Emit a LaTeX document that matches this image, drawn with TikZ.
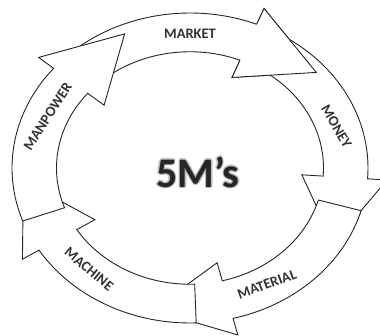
\documentclass[tikz,border=0pt]{standalone}
\usepackage{fontspec}
\setmainfont{Carlito}
\usepackage{tikz}
\usetikzlibrary{positioning}

\tikzset{
  band/.style={fill=white, draw=black!85, line width=0.9pt, line join=miter},
  tag/.style={font=\bfseries\fontsize{14.5}{17}\selectfont, text=black!80, inner sep=0pt},
  hubtext/.style={font=\bfseries\fontsize{42}{48}\selectfont, inner sep=0pt},
}

\begin{document}
\begin{tikzpicture}[x=1pt,y=1pt]
  \path[use as bounding box, clip] (0,0) rectangle (380,335);
  \begin{scope}[shift={(190pt,167pt)}, x=178pt, y=155pt]
    % five bands going round clockwise, one head every 72 degrees
    \foreach \e in {68,-4,-76,-148,-220}{
      \pgfmathsetmacro{\s}{\e+60}
      \pgfmathsetmacro{\t}{\e-27}
      \filldraw[band] (\s:1) arc[start angle=\s, end angle=\e, x radius=178pt, y radius=155pt]
        -- (\e:1.11) -- (\t:0.94) -- (\e:0.63) -- (\e:0.75)
        arc[start angle=\e, end angle=\s, x radius=133.5pt, y radius=116.25pt] -- cycle;
    }
    % first head once more, over the tail of the second band
    \filldraw[band] (68:1) -- (68:1.11) -- (41:0.94) -- (68:0.63) -- (68:0.75);
    \foreach \a/\r/\lab [count=\i] in {90/0/MARKET,18/-60/MONEY,-60/20/MATERIAL,229/-40/MACHINE,157.5/57/MANPOWER}{
      \node[tag, rotate=\r] (m\i) at (\a:0.865) {\lab};
    }
    % soft grey halo behind the title
    \foreach \dx/\dy in {1.6/0,-1.6/0,0/1.6,0/-1.6,1.1/1.1,1.1/-1.1,-1.1/1.1,-1.1/-1.1}{
      \node[hubtext, text=black!35, opacity=0.45, xshift=\dx pt, yshift=\dy pt] at (8pt,-4pt) {5M’s};
    }
    \node[hubtext, text=black!85] (hub) at (8pt,-4pt) {5M’s};
  \end{scope}
\end{tikzpicture}
\end{document}
